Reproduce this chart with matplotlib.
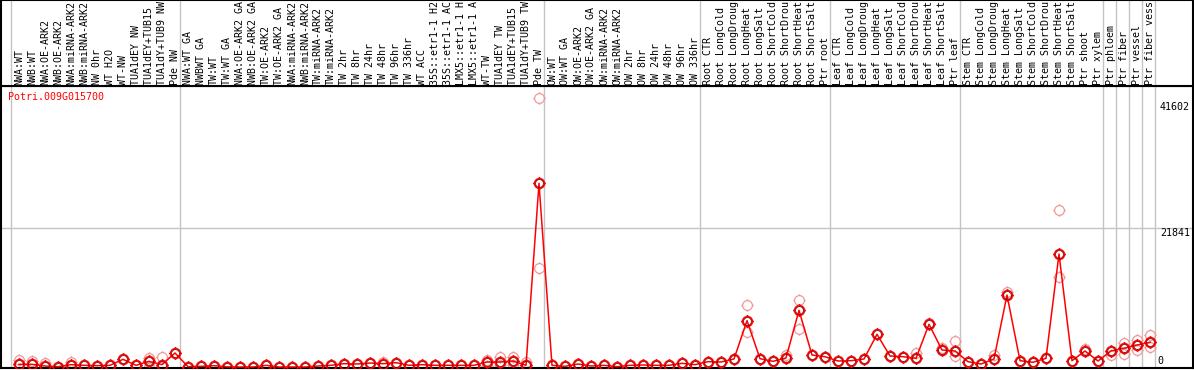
import matplotlib
matplotlib.use('Agg')
import matplotlib.pyplot as plt
import matplotlib.transforms as mtrans
from matplotlib.path import Path

gene = "Potri.009G015700"

labels = [
    "NWA:WT", "NWB:WT", "NWA:OE-ARK2", "NWB:OE-ARK2", "NWA:miRNA-ARK2", "NWB:miRNA-ARK2",
    "NW 0hr", "WT H2O", "WT-NW", "TUA1dEY NW", "TUA1dEY+TUB15 NW", "TUA1dY+TUB9 NW", "Pde NW",
    "NWA:WT GA", "NWBWT GA", "TW:WT", "TW:WT GA", "NWA:OE-ARK2 GA", "NWB:OE-ARK2 GA",
    "TW:OE-ARK2", "TW:OE-ARK2 GA", "NWA:miRNA-ARK2", "NWB:miRNA-ARK2", "TW:miRNA-ARK2",
    "TW:miRNA-ARK2", "TW 2hr", "TW 8hr", "TW 24hr", "TW 48hr", "TW 96hr", "TW 336hr", "WT ACC",
    "35S::etr1-1 H2O", "35S::etr1-1 ACC", "LMX5::etr1-1 H2O", "LMX5::etr1-1 ACC", "WT-TW",
    "TUA1dEY TW", "TUA1dEY+TUB15 TW", "TUA1dY+TUB9 TW", "Pde TW",
    "OW:WT", "OW:WT GA", "OW:OE-ARK2", "OW:OE-ARK2 GA", "OW:miRNA-ARK2", "OW:miRNA-ARK2",
    "OW 2hr", "OW 8hr", "OW 24hr", "OW 48hr", "OW 96hr", "OW 336hr",
    "Root CTR", "Root LongCold", "Root LongDrought", "Root LongHeat", "Root LongSalt",
    "Root ShortCold", "Root ShortDrought", "Root ShortHeat", "Root ShortSalt", "Ptr root",
    "Leaf CTR", "Leaf LongCold", "Leaf LongDrought", "Leaf LongHeat", "Leaf LongSalt",
    "Leaf ShortCold", "Leaf ShortDrought", "Leaf ShortHeat", "Leaf ShortSalt", "Ptr leaf",
    "Stem CTR", "Stem LongCold", "Stem LongDrought", "Stem LongHeat", "Stem LongSalt",
    "Stem ShortCold", "Stem ShortDrought", "Stem ShortHeat", "Stem ShortSalt", "Ptr shoot",
    "Ptr xylem", "Ptr phloem", "Ptr fiber", "Ptr vessel", "Ptr fiber vessel",
]

mean_vals = [
    419, 419, 157, 52, 367, 262, 209, 262, 1204, 262, 890, 367, 2200,
    52, 105, 209, 20, 0, 0, 262, 0, 0, 0, 157, 262, 524, 471, 628, 524, 681,
    262, 367, 262, 262, 262, 262, 785, 785, 943, 262, 28860,
    262, 105, 471, 157, 262, 52, 262, 314, 262, 262, 576, 367,
    838, 785, 1257, 7279, 1309, 890, 1414, 8902, 1885, 1618,
    943, 990, 1257, 5137, 1728, 1618, 1367, 6708, 2671, 2514,
    833, 471, 1257, 11311, 990, 738, 1367, 17752, 990, 2514, 943,
    2514, 2938, 3456, 3880,
]

# visible replicate values (pale circles): sample index and value
pale_idx = [0, 1, 2, 4, 10, 10, 11, 28, 36, 36, 37, 37, 38, 38, 39, 40, 40,
            56, 56, 59, 60, 60, 69, 70, 71, 72, 72, 75, 76, 80, 80, 82,
            84, 85, 85, 86, 86, 87, 87]
pale_vals = [1100, 990, 581, 838, 1414, 0, 1519, 838, 1100, 157, 1519, 262, 1623, 314, 838, 42210, 15553,
             9740, 5546, 1885, 10526, 5970, 2147, 6960, 2933, 4085, 1728, 1885, 11830, 24665, 14140, 2775,
             1885, 3822, 2042, 4242, 2671, 5027, 3194]

group_sizes = [13, 28, 12, 10, 10, 11, 1, 1, 1, 1]
ytick_vals = [0, 21841, 41602]

W, H = 1194, 370
fig = plt.figure(figsize=(W / 100, H / 100), dpi=100)


def px(x0, y0, x1, y1):
    return [x0 / W, 1 - y1 / H, (x1 - x0) / W, (y1 - y0) / H]


ax = fig.add_axes(px(1, 86, 1193, 368))
axl = fig.add_axes(px(1, 0, 1193, 86))

x_px0, step = 19.0, 13.0
xlim = ((1 - x_px0) / step, (1193 - x_px0) / step)
val_per_px = 157.1
ylim = ((367 - 368) * val_per_px, (367 - 86) * val_per_px)

for a in (ax, axl):
    a.set_xlim(*xlim)
    a.set_xticks([])
    a.set_yticks([])
    for s in a.spines.values():
        s.set_color('black')
        s.set_linewidth(1.5)
ax.set_ylim(*ylim)
axl.set_ylim(0, 1)

# group separators
bounds = [-0.6]
c = 0
for g in group_sizes:
    c += g
    bounds.append(c - 0.6)
for b in bounds:
    ax.axvline(b, color='#c4c4c4', lw=1, zorder=0)
    axl.axvline(b, color='#c4c4c4', lw=1, zorder=0)

ax.axhline(ytick_vals[1], color='#c4c4c4', lw=1, zorder=0)

# marker: circle with four small ticks
circ = Path.unit_circle()
tv = [(0, 1), (0, 1.28), (0, -1), (0, -1.28), (1, 0), (1.28, 0), (-1, 0), (-1.28, 0)]
tc = [Path.MOVETO, Path.LINETO] * 4
mk = Path.make_compound_path(circ, Path(tv, tc))

xs = list(range(len(mean_vals)))
ax.plot(pale_idx, pale_vals, linestyle='none', marker=mk, markersize=9,
        markerfacecolor='none', markeredgecolor='#f09a9a', markeredgewidth=0.9, zorder=2)
ax.plot(xs, mean_vals, color='red', lw=1.1, zorder=3)
ax.plot(xs, mean_vals, linestyle='none', marker=mk, markersize=9,
        markerfacecolor='none', markeredgecolor='red', markeredgewidth=1.2, zorder=4)
ax.plot(xs, mean_vals, linestyle='none', marker='o', markersize=5.6,
        markerfacecolor='none', markeredgecolor='#6a0000', markeredgewidth=0.5, zorder=5)

mono = 'DejaVu Sans Mono'
fs = 7.2
for i, lab in enumerate(labels):
    axl.text(i, (86 - 85) / 86, lab[:14], rotation=90, ha='center', va='bottom',
             fontsize=fs, family=mono, color='black', clip_on=True)

tr = mtrans.blended_transform_factory(ax.transAxes, ax.transData)
ax.text(0.9975, ytick_vals[2], str(ytick_vals[2]), ha='right', va='top', fontsize=fs,
        family=mono, transform=tr)
ax.text(0.9975, ytick_vals[1], str(ytick_vals[1]), ha='right', va='top', fontsize=fs,
        family=mono, transform=tr)
ax.text(0.975, ytick_vals[0] + 150, str(ytick_vals[0]), ha='right', va='bottom', fontsize=fs,
        family=mono, transform=tr)

ax.text((8 - 1) / 1192, (368 - 97) / 282, gene, ha='left', va='center', fontsize=fs,
        family=mono, color='red', transform=ax.transAxes)

fig.savefig('out.png', dpi=100)
